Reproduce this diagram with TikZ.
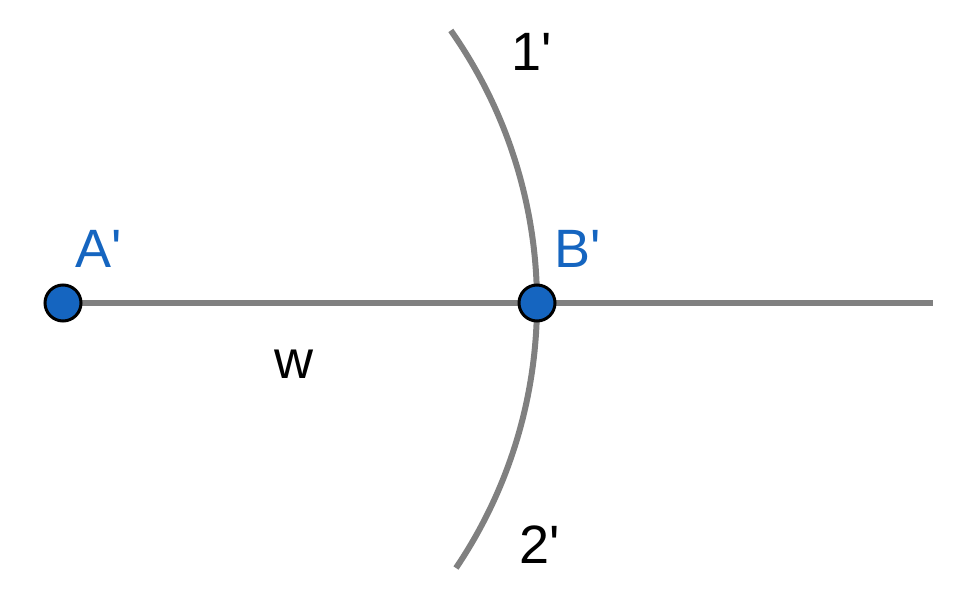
\documentclass[tikz,border=0pt]{standalone}
\usepackage{fontspec}
\setmainfont{Liberation Sans}
\usepackage{xcolor}
\usepackage{tikz}
\usetikzlibrary{positioning,calc}
\definecolor{PtBlue}{HTML}{1565C0}
\definecolor{LineGray}{HTML}{808080}
\newcommand{\prm}{\textquotesingle}
\tikzset{
  pt/.style={circle,draw=black,line width=1.5pt,fill=PtBlue,minimum size=18pt,inner sep=0pt},
  seg/.style={draw=LineGray,line width=3pt},
  ptlabel/.style={text=PtBlue,font=\fontsize{27}{32}\selectfont,inner sep=0pt},
  lbl/.style={text=black,font=\fontsize{27}{32}\selectfont,inner sep=0pt}
}
\begin{document}
\begin{tikzpicture}[x=0.5pt,y=0.5pt]
  \useasboundingbox (0,0) rectangle (972,604);
  \coordinate (A) at (63,301);
  \coordinate (B) at (537,301);
  \coordinate (E) at (933,301);
  % circle arc round A' through B'
  \draw[seg] ($(A)+(35.1:474)$) arc[start angle=35.1,end angle=-34,radius=474];
  \draw[seg] (A) -- (B);
  \draw[seg] (B) -- (E);
  \node[pt] (ptA) at (A) {};
  \node[pt] (ptB) at (B) {};
  \node[ptlabel] (labA) at (99,355) {A\prm};
  \node[ptlabel] (labB) at (578,355) {B\prm};
  \node[lbl] (w) at (294,240) {w};
  \node[lbl] (one) at (532,552) {1\prm};
  \node[lbl] (two) at (540,59) {2\prm};
\end{tikzpicture}
\end{document}
